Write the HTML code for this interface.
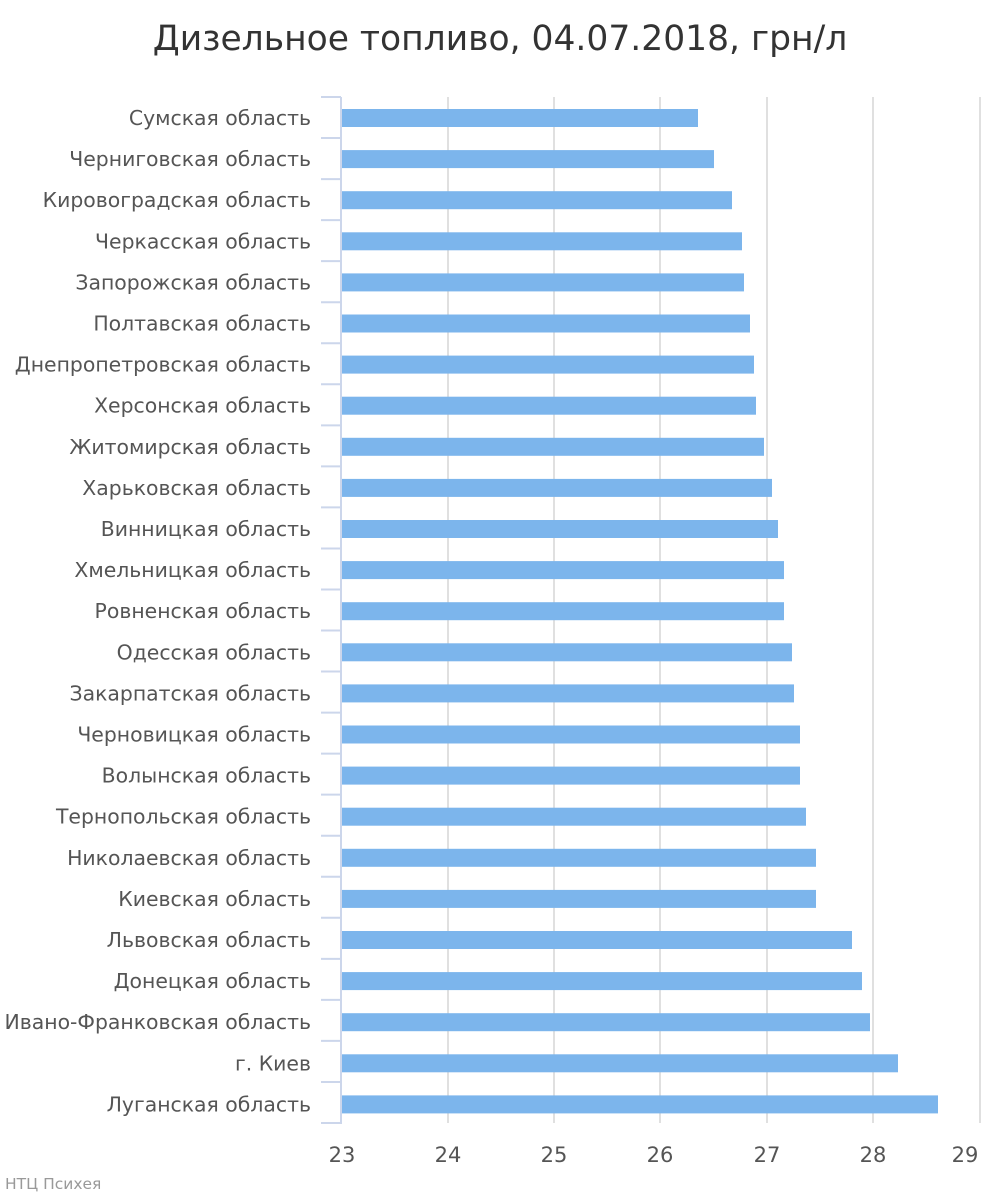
<!DOCTYPE html>
<html><head><meta charset="utf-8"><style>
html,body{margin:0;padding:0;background:#fff;}
svg{display:block;font-family:"DejaVu Sans","Liberation Sans",sans-serif;}
</style></head><body>
<svg width="1000" height="1200" viewBox="0 0 1000 1200" xmlns="http://www.w3.org/2000/svg">
<text x="500" y="50" text-anchor="middle" font-size="34.5" fill="#333">Дизельное топливо, 04.07.2018, грн/л</text>
<g stroke="#e0e0e0" stroke-width="2">
<line x1="448" y1="97" x2="448" y2="1123"/>
<line x1="554" y1="97" x2="554" y2="1123"/>
<line x1="660" y1="97" x2="660" y2="1123"/>
<line x1="767" y1="97" x2="767" y2="1123"/>
<line x1="873" y1="97" x2="873" y2="1123"/>
<line x1="980" y1="97" x2="980" y2="1123"/>
</g>
<g id="bars" fill="#7cb5ec"></g>
<g id="ticks" stroke="#ccd6eb" stroke-width="2"></g>
<line x1="341" y1="97" x2="341" y2="1124" stroke="#ccd6eb" stroke-width="2"/>
<g id="labels" font-size="20.4" fill="#555" text-anchor="end"></g>
<g font-size="21" fill="#555" text-anchor="middle">
<text x="342" y="1162">23</text>
<text x="448" y="1162">24</text>
<text x="554" y="1162">25</text>
<text x="660" y="1162">26</text>
<text x="767" y="1162">27</text>
<text x="873" y="1162">28</text>
<text x="965" y="1162">29</text>
</g>
<text x="5" y="1189" font-size="15.5" fill="#999">НТЦ Психея</text>
</svg>
<script>
var names=["Сумская область","Черниговская область","Кировоградская область","Черкасская область","Запорожская область","Полтавская область","Днепропетровская область","Херсонская область","Житомирская область","Харьковская область","Винницкая область","Хмельницкая область","Ровненская область","Одесская область","Закарпатская область","Черновицкая область","Волынская область","Тернопольская область","Николаевская область","Киевская область","Львовская область","Донецкая область","Ивано-Франковская область","г. Киев","Луганская область"];
var ends=[698,714,732,742,744,750,754,756,764,772,778,784,784,792,794,800,800,806,816,816,852,862,870,898,938];
var ns="http://www.w3.org/2000/svg";
var b=document.getElementById("bars"),t=document.getElementById("ticks"),l=document.getElementById("labels");
for(var i=0;i<25;i++){
 var c=118+41.1*i;
 var r=document.createElementNS(ns,"rect");
 r.setAttribute("x",342);r.setAttribute("y",c-9);r.setAttribute("width",ends[i]-342);r.setAttribute("height",18);b.appendChild(r);
 var tx=document.createElementNS(ns,"text");
 tx.setAttribute("x",311);tx.setAttribute("y",c+7);tx.textContent=names[i];l.appendChild(tx);
}
for(var k=0;k<=25;k++){
 var y=97+41.04*k;
 var ln=document.createElementNS(ns,"line");
 ln.setAttribute("x1",321);ln.setAttribute("x2",341);ln.setAttribute("y1",y);ln.setAttribute("y2",y);t.appendChild(ln);
}
</script>
</body></html>
